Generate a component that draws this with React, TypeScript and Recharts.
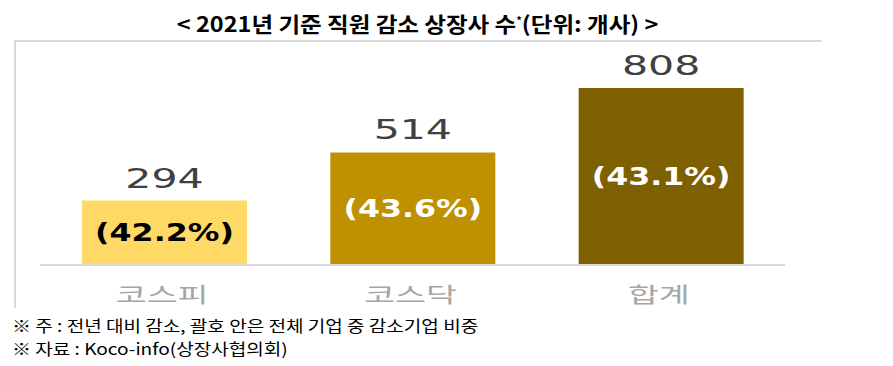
import { BarChart, Bar, XAxis, YAxis, Cell, LabelList } from "recharts";

const categories = ["코스피", "코스닥", "합계"];
const counts = [294, 514, 808];
const shares = [42.2, 43.6, 43.1];

const BAR_COLORS = ["#FFD966", "#BF9000", "#7F6000"];
const SHARE_COLORS = ["#000000", "#FFFFFF", "#FFFFFF"];
const LINE_COLOR = "#D9D9D9";

const data = categories.map((name, i) => ({
  name,
  count: counts[i],
  share: shares[i],
}));

// the picture is stretched sideways, so the glyphs get a horizontal scale
function CountLabel(props: any) {
  const { x, y, width, value } = props;
  const cx = Number(x) + Number(width) / 2;
  return (
    <text
      transform={`translate(${cx},${Number(y) - 13}) scale(1.52,1)`}
      textAnchor="middle"
      fontFamily="DejaVu Sans"
      fontSize={27}
      fill="#404040"
    >
      {value}
    </text>
  );
}

function ShareLabel(props: any) {
  const { x, y, width, height, value, index } = props;
  const cx = Number(x) + Number(width) / 2;
  const cy = Number(y) + Number(height) / 2;
  return (
    <text
      transform={`translate(${cx},${cy}) scale(1.32,1)`}
      textAnchor="middle"
      dominantBaseline="central"
      fontFamily="DejaVu Sans"
      fontWeight="bold"
      fontSize={24}
      fill={SHARE_COLORS[index] ?? "#FFFFFF"}
    >
      {`(${Number(value).toFixed(1)}%)`}
    </text>
  );
}

function CategoryTick(props: any) {
  const { x, y, payload } = props;
  return (
    <text
      transform={`translate(${Number(x) - 2},${Number(y) + 28}) scale(1.6,1)`}
      textAnchor="middle"
      dominantBaseline="central"
      fontFamily="Noto Sans CJK KR"
      fontSize={21}
      fill="#A6A6A6"
    >
      {payload.value}
    </text>
  );
}

export default function App() {
  return (
    <div
      style={{
        position: "fixed",
        left: 0,
        top: 0,
        width: 893,
        height: 366,
        background: "#fff",
        overflow: "hidden",
      }}
    >
      <div
        style={{
          position: "absolute",
          left: 0,
          top: 4,
          width: 835,
          textAlign: "center",
          fontFamily: "Noto Sans CJK KR",
          fontWeight: "bold",
          fontSize: 21,
          lineHeight: "32px",
          color: "#000",
          whiteSpace: "nowrap",
          transform: "scaleX(1.12)",
          transformOrigin: "417px 0",
        }}
      >
        &lt; 2021년 기준 직원 감소 상장사 수<sup style={{ fontSize: 10 }}>*</sup>(단위: 개사) &gt;
      </div>

      {/* frame lines of the original text box */}
      <div style={{ position: "absolute", left: 15, top: 40, width: 807, height: 2, background: LINE_COLOR }} />
      <div style={{ position: "absolute", left: 14, top: 40, width: 2, height: 268, background: LINE_COLOR }} />

      <div style={{ position: "absolute", left: 0, top: 0 }}>
        <BarChart
          width={893}
          height={366}
          data={data}
          margin={{ top: 46, right: 108, bottom: 61, left: 40 }}
        >
          <XAxis
            dataKey="name"
            height={40}
            axisLine={{ stroke: LINE_COLOR, strokeWidth: 2 }}
            tickLine={false}
            tickSize={0}
            tickMargin={0}
            tick={<CategoryTick />}
          />
          <YAxis hide domain={[0, 1000]} />
          <Bar dataKey="count" barSize={165} isAnimationActive={false}>
            {data.map((d, i) => (
              <Cell key={d.name} fill={BAR_COLORS[i]} />
            ))}
            <LabelList dataKey="count" position="top" content={<CountLabel />} />
            <LabelList dataKey="share" position="center" content={<ShareLabel />} />
          </Bar>
        </BarChart>
      </div>

      <div
        style={{
          position: "absolute",
          left: 12,
          top: 314,
          fontFamily: "Noto Sans CJK KR",
          fontSize: 16,
          lineHeight: "23px",
          color: "#000",
          whiteSpace: "nowrap",
          transform: "scaleX(1.19)",
          transformOrigin: "0 0",
        }}
      >
        <div>※ 주 : 전년 대비 감소, 괄호 안은 전체 기업 중 감소기업 비중</div>
        <div>※ 자료 : Koco-info(상장사협의회)</div>
      </div>
    </div>
  );
}
